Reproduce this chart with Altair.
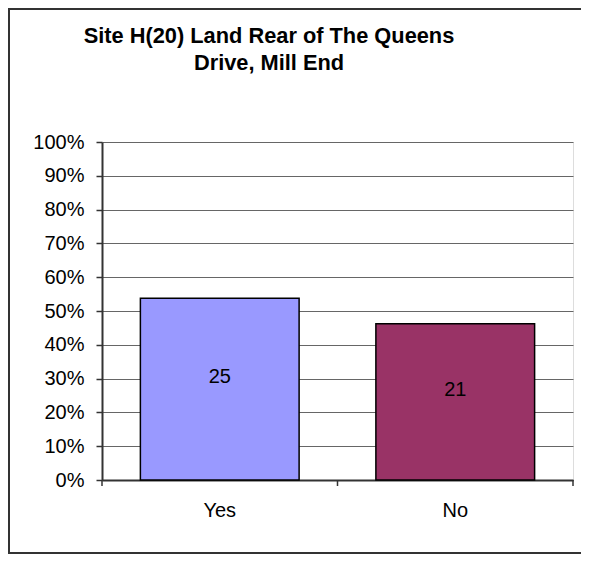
import altair as alt
import pandas as pd

categories = ["Yes", "No"]
shares = [0.538, 0.462]
counts = [25, 21]
colors = ["#9999FF", "#993366"]
y_ticks = [0.0, 0.1, 0.2, 0.3, 0.4, 0.5, 0.6, 0.7, 0.8, 0.9, 1.0]
category_edges = [0, 1, 2]
title_lines = ["Site H(20) Land Rear of The Queens", "Drive, Mill End"]

FONT = "Liberation Sans"
W, H = 471, 338
AXIS_DARK = "#333333"

df = pd.DataFrame({"answer": categories, "share": shares, "count": counts})

x_scale = alt.Scale(paddingInner=0.326, paddingOuter=0.163)
x_axis = alt.Axis(
    title=None, labelAngle=0, ticks=False,
    labelPadding=20, labelFontSize=20, labelFont=FONT, labelColor="black",
    domainColor=AXIS_DARK, domainWidth=2, grid=False,
)
y_scale = alt.Scale(domain=[0, 1], nice=False)
y_axis = alt.Axis(
    title=None, values=y_ticks, tickCount=len(y_ticks), labelOverlap=False,
    format=".0%", tickSize=6, labelPadding=12,
    labelFontSize=20, labelFont=FONT, labelColor="black",
    grid=True, gridColor="#666666", gridWidth=1,
    domainColor=AXIS_DARK, domainWidth=2, tickColor=AXIS_DARK, tickWidth=1.5,
)

base = alt.Chart(df)

bars = base.mark_bar(stroke="black", strokeWidth=1.5).encode(
    x=alt.X("answer:N", sort=categories, scale=x_scale, axis=x_axis),
    y=alt.Y("share:Q", scale=y_scale, axis=y_axis),
    color=alt.Color("answer:N", scale=alt.Scale(domain=categories, range=colors), legend=None),
)

labels = base.transform_calculate(half="datum.share / 2").mark_text(
    fontSize=20, font=FONT, color="black", dy=-12, baseline="middle"
).encode(
    x=alt.X("answer:N", sort=categories, scale=x_scale, axis=x_axis),
    y=alt.Y("half:Q", scale=y_scale, axis=y_axis),
    text="count:Q",
)

x_ticks = alt.Chart(pd.DataFrame({"edge": category_edges})).mark_rule(
    color=AXIS_DARK, strokeWidth=1.5
).encode(
    x=alt.X("edge:Q", scale=alt.Scale(domain=[0, 2], nice=False, zero=False), axis=None),
    y=alt.value(H),
    y2=alt.value(H + 6),
)

one = alt.Data(values=[{}])
frame_left = alt.Chart(one).mark_rect(color=AXIS_DARK, strokeWidth=0).encode(
    x=alt.value(-94), x2=alt.value(-92), y=alt.value(-134), y2=alt.value(412)
)
frame_top = alt.Chart(one).mark_rect(color=AXIS_DARK, strokeWidth=0).encode(
    x=alt.value(-94), x2=alt.value(W + 40), y=alt.value(-134), y2=alt.value(-132)
)
frame_bottom = alt.Chart(one).mark_rect(color=AXIS_DARK, strokeWidth=0).encode(
    x=alt.value(-94), x2=alt.value(W + 40), y=alt.value(410), y2=alt.value(412)
)

title1 = alt.Chart(one).mark_text(
    fontSize=21.8, fontWeight="bold", font=FONT, color="black", align="center", baseline="middle"
).encode(x=alt.value(167), y=alt.value(-106), text=alt.value(title_lines[0]))

title2 = alt.Chart(one).mark_text(
    fontSize=21.8, fontWeight="bold", font=FONT, color="black", align="center", baseline="middle"
).encode(x=alt.value(167), y=alt.value(-79), text=alt.value(title_lines[1]))

main = alt.layer(frame_left, frame_top, frame_bottom, bars, labels, title1, title2)

chart = alt.layer(main, x_ticks).resolve_scale(
    x="independent"
).properties(
    width=W,
    height=H,
    autosize=alt.AutoSizeParams(type="none"),
    padding={"left": 94, "top": 134, "right": 8, "bottom": 75},
).configure_view(
    stroke="#8c8c8c", strokeWidth=2
).configure(background="white")

chart.save("out.html", embed_options={"renderer": "svg", "actions": False})
